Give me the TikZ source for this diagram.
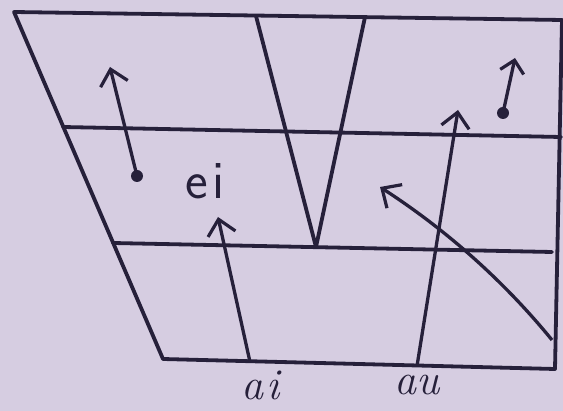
\documentclass[tikz,border=0pt]{standalone}
\usetikzlibrary{arrows.meta}
\definecolor{paper}{RGB}{214,205,225}
\definecolor{ink}{RGB}{38,32,58}

\begin{document}
\begin{tikzpicture}[
  x=1pt, y=-1pt,
  >={Straight Barb[length=15pt,width=28pt,line width=3.2pt]},
  grid/.style={draw=ink, line width=3.8pt, line cap=round, line join=round},
  move/.style={draw=ink, ->, line width=3.3pt},
  dot/.style={circle, fill=ink, inner sep=0pt, minimum size=12pt},
  lbl/.style={text=ink, inner sep=0pt, font=\fontsize{44}{44}\selectfont\itshape}
]
  \fill[paper] (0,0) rectangle (563,411);
  \useasboundingbox (0,0) rectangle (563,411);

  % outline of the chart
  \coordinate (tl) at (14,12);
  \coordinate (tr) at (562,20);
  \coordinate (br) at (555,369);
  \coordinate (bl) at (163,359);
  \draw[grid] (tl) -- (tr) -- (br) -- (bl) -- cycle;

  % height lines and the central wedge
  \coordinate (hiL) at (63,127);
  \coordinate (hiR) at (561,137);
  \coordinate (loL) at (113,243);
  \coordinate (loR) at (552,252);
  \draw[grid] (hiL) -- (hiR);
  \draw[grid] (loL) -- (loR);
  \draw[grid] (256,16) -- (316,247) -- (365,17);

  % glides
  \node[dot] (front) at (137,176) {};
  \coordinate (frontT) at (110,67);
  \draw[move] (front.center) -- (frontT);

  \node[dot] (back) at (503,113) {};
  \coordinate (backT) at (515,58);
  \draw[move, >={Straight Barb[length=12pt,width=24pt,line width=3.2pt]}] (back.center) -- (backT);

  \node[text=ink, inner sep=0pt, font=\fontsize{54}{54}\selectfont\sffamily] (ei) at (205,181) {e\kern4pt i};

  \node[lbl] (ai) at (261,385) {a\kern3pt i};
  \coordinate (aiB) at (250,362);
  \coordinate (aiT) at (218,217);
  \draw[move] (aiB) -- (aiT);

  \node[lbl] (au) at (417,385) {au};
  \coordinate (auB) at (417,366);
  \coordinate (auT) at (458,110);
  \draw[move] (auB) -- (auT);

  \coordinate (oiB) at (552,340);
  \coordinate (oiT) at (380,187);
  \draw[move] (oiB) .. controls (503,280) and (445,229) .. (oiT);
\end{tikzpicture}
\end{document}
